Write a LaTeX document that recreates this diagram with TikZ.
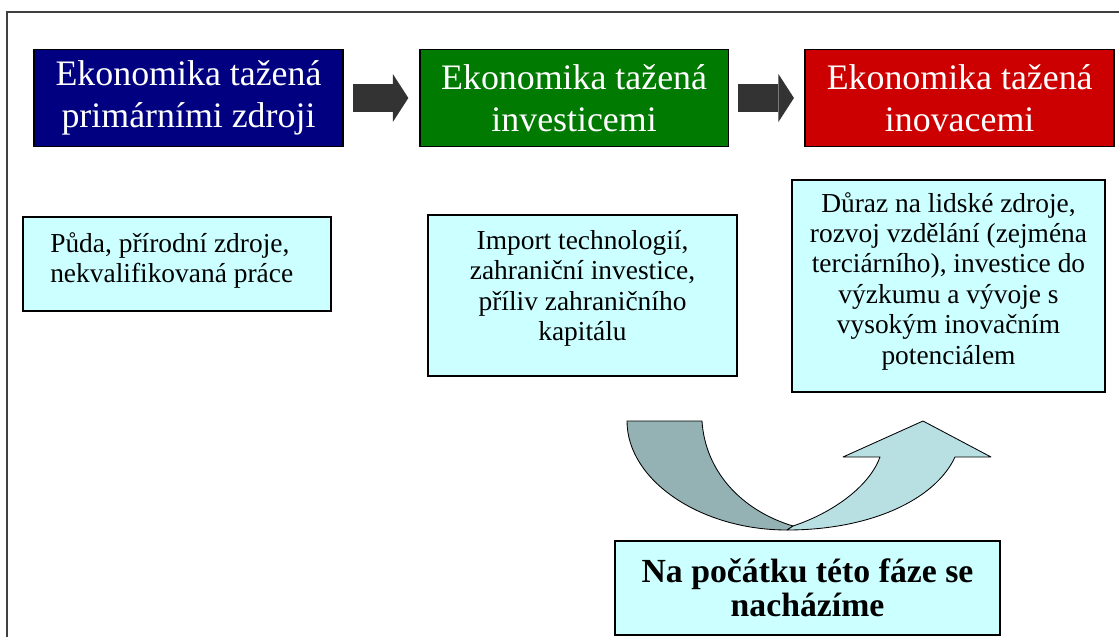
\documentclass[tikz,border=0pt]{standalone}
\usepackage{fontspec}
\setmainfont{Liberation Serif}
\usepackage{xcolor}
\usetikzlibrary{positioning, arrows.meta}

\definecolor{navyfill}{RGB}{0,0,128}
\definecolor{greenfill}{RGB}{0,122,0}
\definecolor{redfill}{RGB}{204,0,0}
\definecolor{lightcyan}{RGB}{204,255,255}
\definecolor{arrowgray}{RGB}{51,51,51}
\definecolor{ribbondark}{RGB}{148,177,180}
\definecolor{ribbonlight}{RGB}{184,223,226}

\begin{document}
\begin{tikzpicture}[
        % Define styles for consistency
        x=0.025cm, y=-0.025cm,
        headbox/.style={draw=black, line width=1.2pt, text=white, align=center,
            minimum width=219.5pt, minimum height=69pt, inner sep=0pt,
            font=\fontsize{25.5}{30}\selectfont},
        infobox/.style={draw=black, line width=1.2pt, fill=lightcyan, inner sep=0pt},
        infotext/.style={inner sep=0pt, align=center, font=\fontsize{19.5}{21.6}\selectfont},
        blockarrow/.style={arrowgray, line width=20pt,
            -{Triangle[length=11pt, width=34pt, line width=0pt]},
            shorten <=6.4pt, shorten >=7.5pt},
        ribbon/.style={draw=black, line width=0.6pt, line join=round},
        frameline/.style={draw=black!75, line width=1pt}
    ]

        \useasboundingbox (0,0) rectangle (1119,637);

        % --- Frame ---
        \coordinate (frame_top) at (7,12);
        \coordinate (frame_right) at (1119,12);
        \coordinate (frame_bottom) at (7,637);
        \draw[frameline] (frame_right) -- (frame_top) -- (frame_bottom);

        % --- Stage boxes ---
        \node[headbox, fill=navyfill] (primary) at (188.5,98) {Ekonomika tažená\\primárními zdroji};
        \node[headbox, fill=greenfill, right=53.5pt of primary] (invest) {Ekonomika tažená\\investicemi};
        \node[headbox, fill=redfill, right=53.5pt of invest] (innov) {Ekonomika tažená\\inovacemi};

        % --- Arrows between stages ---
        \draw[blockarrow] (primary) -- (invest);
        \draw[blockarrow] (invest) -- (innov);

        % --- Description boxes ---
        \node[infobox, minimum width=219pt, minimum height=67pt] (resources) at (177,264) {};
        \node[infotext, align=left, anchor=north west] (resources_text) at (50,232)
            {Půda, přírodní zdroje,\\nekvalifikovaná práce};

        \node[infobox, minimum width=219.8pt, minimum height=114.5pt] (capital) at (582.5,295.5) {};
        \node[infotext, anchor=north] (capital_text) at (582.5,230)
            {Import technologií,\\zahraniční investice,\\příliv zahraničního\\kapitálu};

        \node[infobox, minimum width=222.6pt, minimum height=150.8pt] (research) at (948.5,286) {};
        \node[infotext, anchor=north] (research_text) at (948.5,192)
            {Důraz na lidské zdroje,\\rozvoj vzdělání (zejména\\terciárního), investice do\\výzkumu a vývoje s\\vysokým inovačním\\potenciálem};

        \node[infobox, minimum width=273.9pt, minimum height=67pt] (phase) at (807.5,588) {};
        \node[infotext, anchor=north, font=\fontsize{24}{24.8}\selectfont\bfseries] (phase_text) at (807.5,558)
            {Na počátku této fáze se\\nacházíme};

        % --- Curved arrow ---
        \coordinate (back_outer) at (627,421);
        \coordinate (back_inner) at (702,421);
        \coordinate (cross_top) at (793,526);
        \coordinate (cross_bottom) at (787,530);
        \coordinate (shaft_left) at (880,457);
        \coordinate (shaft_right) at (955,457);
        \coordinate (wing_left) at (843,457);
        \coordinate (wing_right) at (991,457);
        \coordinate (tip) at (923,421);

        \draw[ribbon, fill=ribbondark] (back_outer) -- (back_inner)
            .. controls (705,470) and (740,510) .. (cross_top) -- (cross_bottom)
            .. controls (700,530) and (627,480) .. (back_outer) -- cycle;
        \draw[ribbon, fill=ribbonlight] (cross_bottom)
            .. controls (870,530) and (935,500) .. (shaft_right) -- (wing_right)
            -- (tip) -- (wing_left) -- (shaft_left)
            .. controls (870,485) and (835,512) .. (cross_top) -- cycle;

    \end{tikzpicture}
\end{document}
